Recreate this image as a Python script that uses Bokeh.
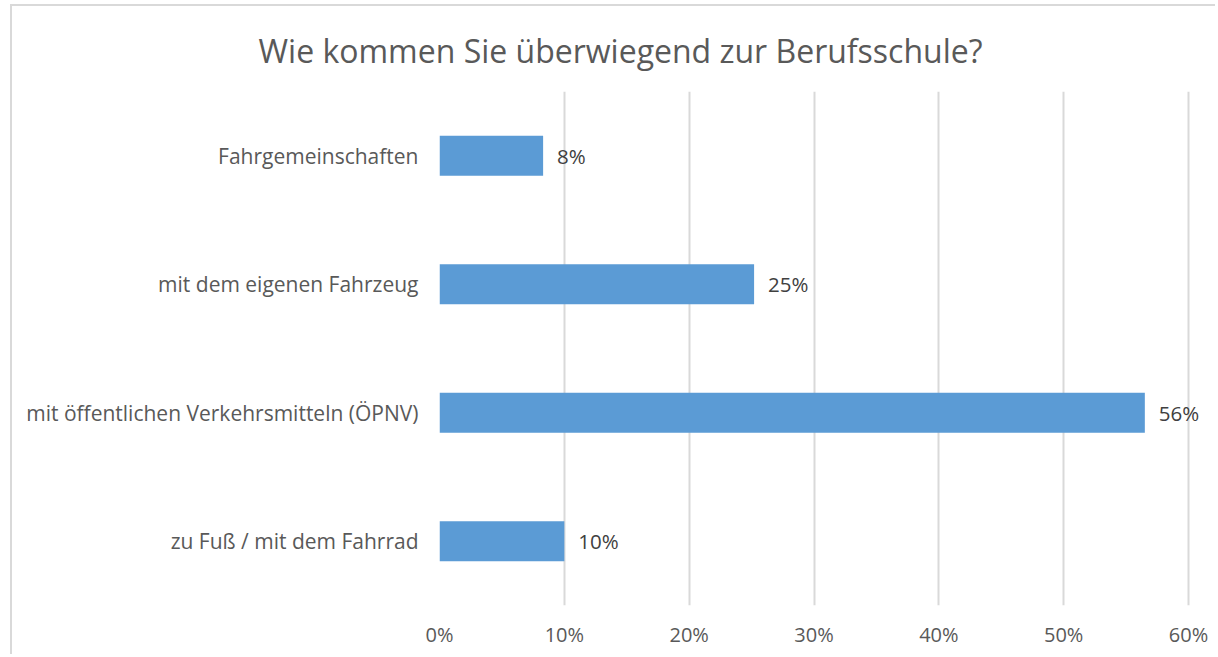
from bokeh.plotting import figure
from bokeh.models import FactorRange, Range1d, ColumnDataSource, FixedTicker, CustomJSTickFormatter
from bokeh.core.properties import value
from bokeh.embed import file_html
from bokeh.resources import INLINE

title_text = "Wie kommen Sie überwiegend zur Berufsschule?"
categories = [
    "Fahrgemeinschaften",
    "mit dem eigenen Fahrzeug",
    "mit öffentlichen Verkehrsmitteln (ÖPNV)",
    "zu Fuß / mit dem Fahrrad",
]
values = [8.3, 25.2, 56.5, 10.0]
value_labels = ["8%", "25%", "56%", "10%"]
x_ticks = [0, 10, 20, 30, 40, 50, 60]

FONT = "Open Sans"
GRAY = "#595959"

W, H = 1205, 650
p = figure(
    width=W, height=H,
    y_range=FactorRange(*list(reversed(categories)), range_padding=0),
    x_range=Range1d(0, 61.92),
    output_backend="svg", toolbar_location=None,
    min_border_left=427, min_border_right=5, min_border_top=85, min_border_bottom=51,
)
p.styles = {"margin-top": "4px", "margin-left": "10px",
            "border-top": "2px solid #d9d9d9", "border-left": "2px solid #d9d9d9"}
p.outline_line_color = None
p.background_fill_color = "white"
p.border_fill_color = "white"

src = ColumnDataSource(dict(cat=categories, val=values, lab=value_labels))
p.hbar(y="cat", right="val", left=0, height=0.31, source=src, color="#5b9bd5", line_color=None)
p.text(x="val", y="cat", text="lab", source=src, x_offset=14, text_baseline="middle",
       text_align="left", text_font=value(FONT), text_font_size="20.5px", text_color="#404040")

p.xgrid.grid_line_color = "#d9d9d9"
p.xgrid.grid_line_width = 2
p.ygrid.grid_line_color = None
p.xaxis.ticker = FixedTicker(ticks=x_ticks)
p.xaxis.formatter = CustomJSTickFormatter(code="return tick + '%';")
for ax in (p.xaxis, p.yaxis):
    ax.axis_line_color = None
    ax.major_tick_line_color = None
    ax.minor_tick_line_color = None
    ax.major_label_text_font = FONT
    ax.major_label_text_color = GRAY
p.xaxis.major_label_text_font_size = "20px"
p.yaxis.major_label_text_font_size = "21px"
p.xaxis.major_label_standoff = 9
p.yaxis.major_label_standoff = 15

p.title.text = title_text
p.title.align = "left"
p.title.offset = -181
p.title.standoff = 38
p.title.vertical_align = "middle"
p.title.text_font = FONT
p.title.text_font_size = "32px"
p.title.text_font_style = "normal"
p.title.text_color = GRAY

open("out.html", "w").write(file_html(p, INLINE))
